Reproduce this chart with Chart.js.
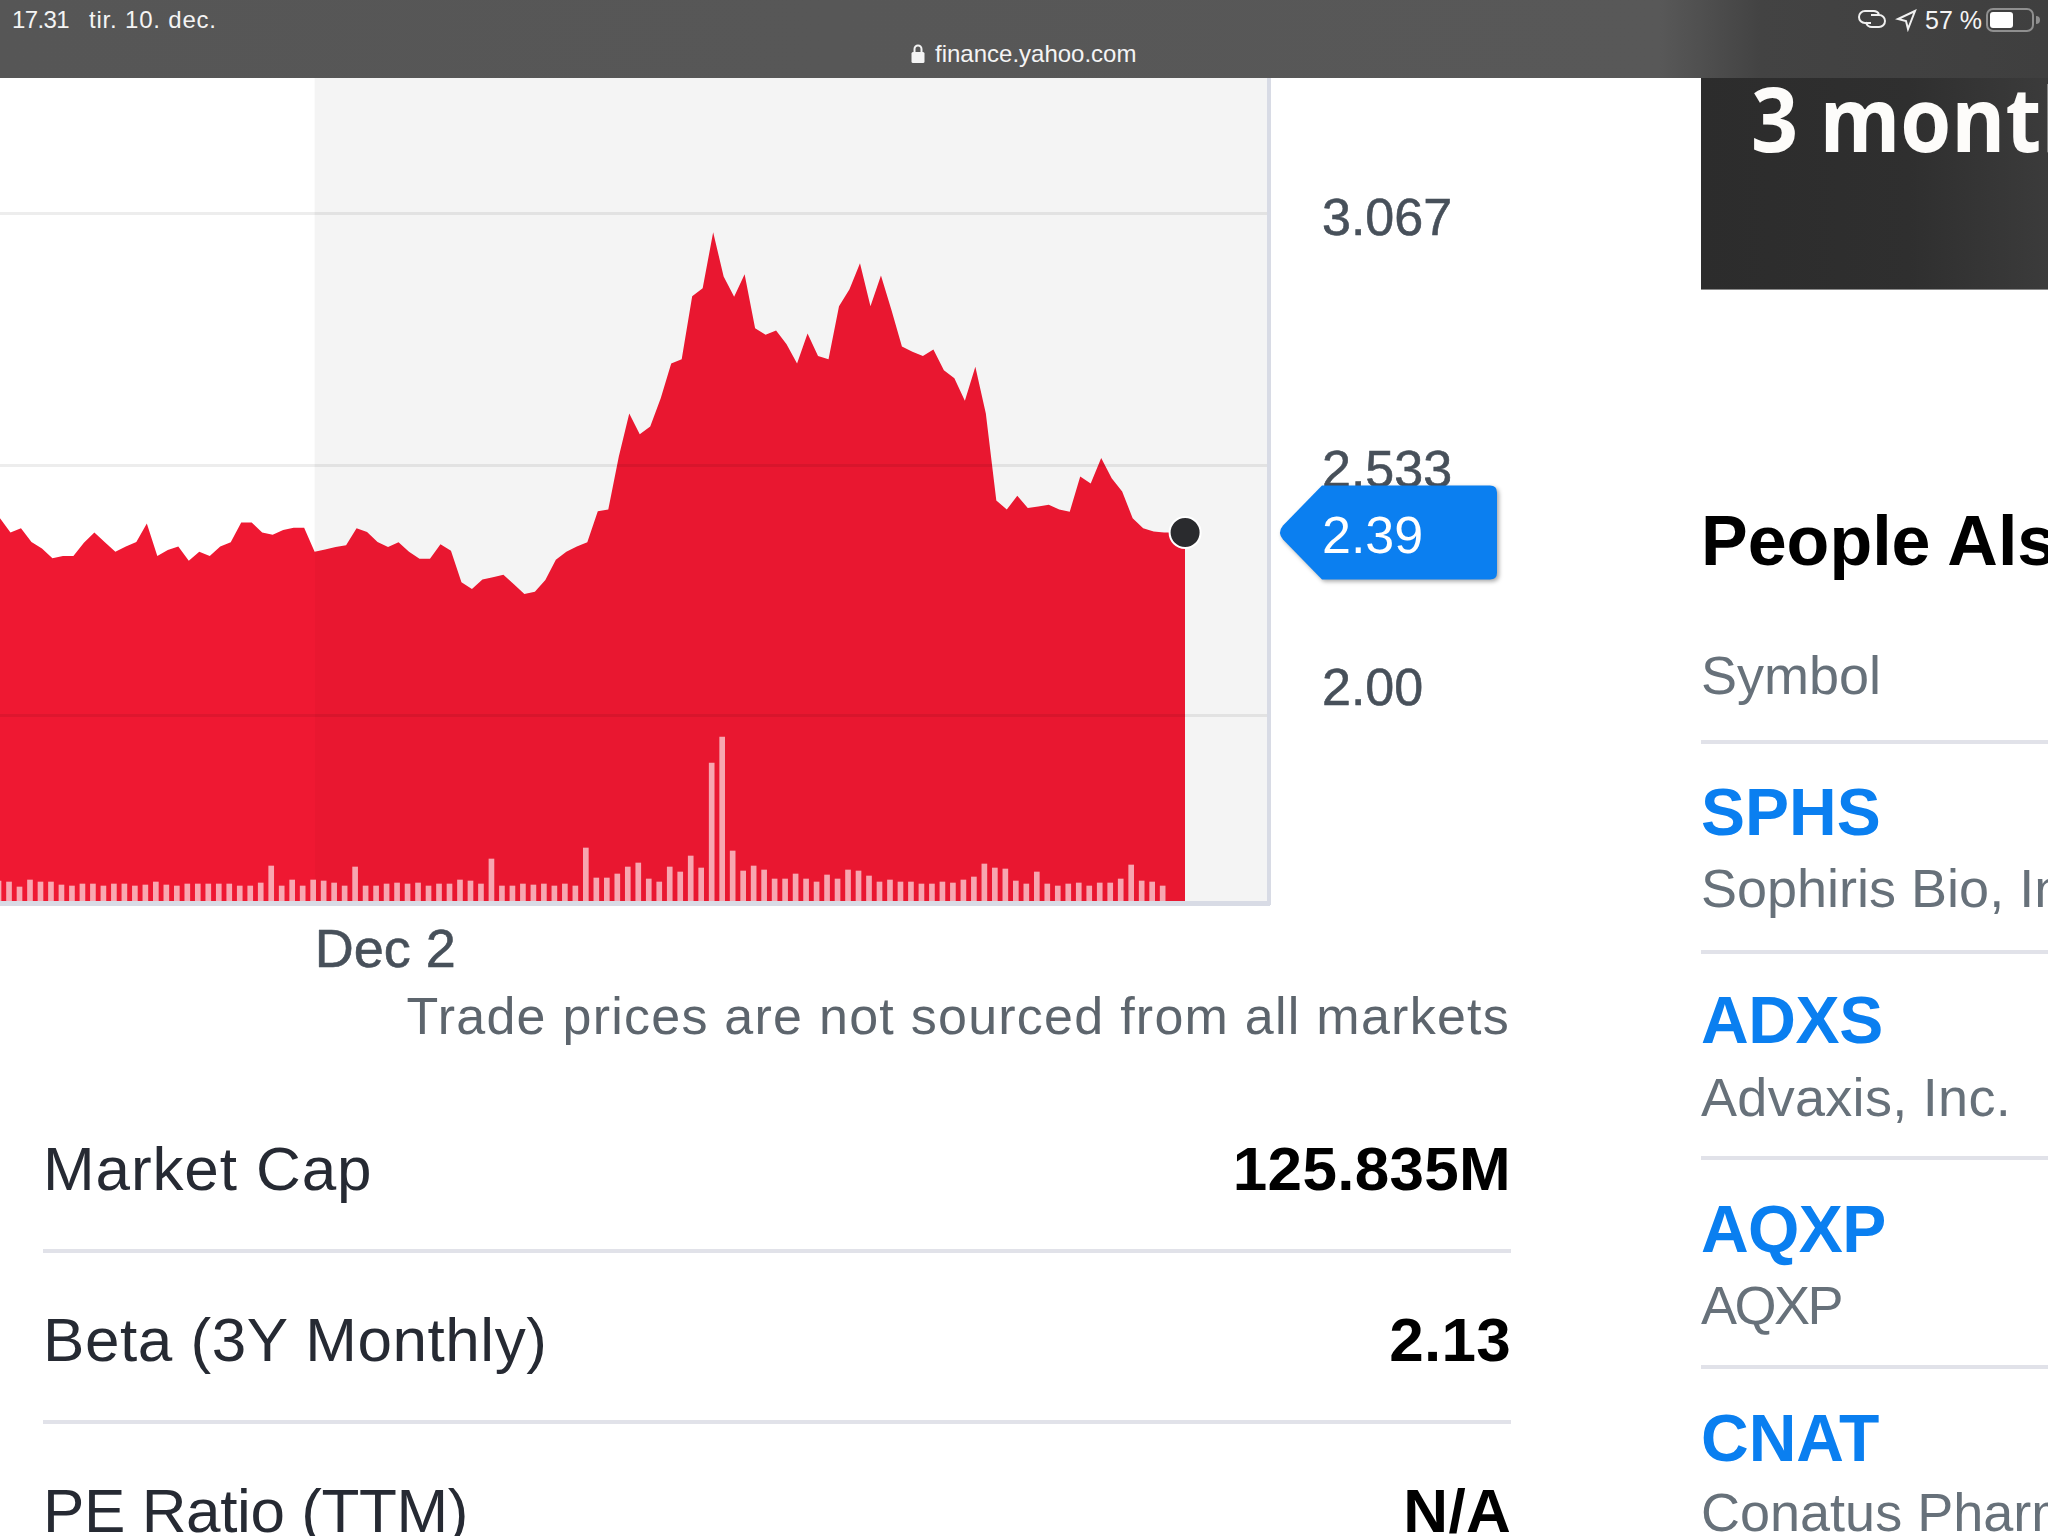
<!DOCTYPE html>
<html>
<head>
<meta charset="utf-8">
<title>finance.yahoo.com</title>
<script src="https://cdn.jsdelivr.net/npm/chart.js@4/dist/chart.umd.js"></script>
<style>
  html, body { margin: 0; padding: 0; background: #fff; }
  #page { position: relative; width: 2048px; height: 1536px; overflow: hidden; font-family: "Liberation Sans", Arial, sans-serif; }
  #page > * { position: absolute; }
  #my_chart { left: 0; top: 78px; }
  .txt { white-space: nowrap; line-height: 1; }

  #topbar { left: 0; top: 0; width: 2048px; height: 78px;
    background: linear-gradient(90deg, #565656 0, #585858 1660px, #434343 1760px, #3f3f3f 100%); }
  .bar-txt { color: #f4f4f4; font-size: 24px; }

  #promo { left: 1701px; top: 78px; width: 347px; height: 212px; overflow: hidden;
    background: linear-gradient(90deg, #2c2c2c 0, #2f2f2f 60%, #3b3b3b 100%);
    border-bottom: 1px solid #8a8a8a; box-sizing: border-box; }
  #promo span { position: absolute; left: 50px; top: -15px; color: #fdfcfa; white-space: nowrap;
    font: 700 90px "Open Sans", sans-serif; line-height: 1.2; transform: scaleX(0.915); transform-origin: left; }

  .note { right: 538px; color: #5d656d; font-size: 52px; letter-spacing: 1.25px; }
  .stat-name { left: 43px; color: #262a33; font-size: 62px; }
  .stat-val { right: 537px; color: #000; font-size: 62px; font-weight: 700; letter-spacing: 0.3px; }
  .rule { height: 4px; background: #e1e2e9; }
  .head { left: 1701px; color: #000; font-size: 70px; font-weight: 700; }
  .sym { left: 1701px; color: #0a7ff0; font-size: 66px; font-weight: 700; }
  .co { left: 1701px; color: #67717a; font-size: 54px; }
</style>
</head>
<body>
<div id="page">
  <canvas id="my_chart" width="1640" height="920"></canvas>

  <div id="topbar"></div>
  <div class="txt bar-txt" style="left:12px;top:8px;letter-spacing:-0.6px">17.31</div>
  <div class="txt bar-txt" style="left:89px;top:8px;letter-spacing:0.8px">tir. 10. dec.</div>
  <svg style="left:911px;top:43px" width="14" height="21" viewBox="0 0 14 21">
    <path d="M3.5 9V6a3.5 3.5 0 0 1 7 0v3" fill="none" stroke="#f4f4f4" stroke-width="2"/>
    <rect x="0.5" y="9" width="13" height="11" rx="1.5" fill="#f4f4f4"/>
  </svg>
  <div class="txt bar-txt" style="left:935px;top:42px">finance.yahoo.com</div>
  <svg style="left:1856px;top:6px" width="64" height="26" viewBox="0 0 64 26" fill="none" stroke="#f0f0f0" stroke-width="2">
    <path d="M15 17H9a6 6 0 0 1 0-12h9a6 6 0 0 1 5 3"/>
    <path d="M15 9h8a6 6 0 0 1 0 12h-7a6 6 0 0 1-6-5"/>
    <path d="M59 5L42 13l8 2 2 8z"/>
  </svg>
  <div class="txt bar-txt" style="left:1925px;top:8px;font-size:25px">57 %</div>
  <svg style="left:1984px;top:6px" width="56" height="28" viewBox="0 0 56 28">
    <rect x="3" y="3" width="46" height="22" rx="6" fill="none" stroke="#8f8f8f" stroke-width="2"/>
    <rect x="6" y="6" width="23" height="16" rx="3" fill="#fff"/>
    <path d="M52 10a4 4 0 0 1 0 8z" fill="#8f8f8f"/>
  </svg>

  <div id="promo"><span>3 months</span></div>

  <div class="txt note" style="top:990px">Trade prices are not sourced from all markets</div>

  <div class="txt stat-name" style="top:1138px;letter-spacing:0.9px">Market Cap</div>
  <div class="txt stat-val" style="top:1138px">125.835M</div>
  <div class="rule" style="left:43px;top:1249px;width:1468px"></div>
  <div class="txt stat-name" style="top:1309px;letter-spacing:0.55px">Beta (3Y Monthly)</div>
  <div class="txt stat-val" style="top:1309px">2.13</div>
  <div class="rule" style="left:43px;top:1420px;width:1468px"></div>
  <div class="txt stat-name" style="top:1480px;letter-spacing:-0.4px">PE Ratio (TTM)</div>
  <div class="txt stat-val" style="top:1480px">N/A</div>

  <div class="txt head" style="top:506px">People Also Watch</div>
  <div class="txt co" style="top:648px">Symbol</div>
  <div class="rule" style="left:1701px;top:740px;width:347px"></div>
  <div class="txt sym" style="top:779px">SPHS</div>
  <div class="txt co" style="top:861px">Sophiris Bio, Inc.</div>
  <div class="rule" style="left:1701px;top:950px;width:347px"></div>
  <div class="txt sym" style="top:987px;letter-spacing:-0.4px">ADXS</div>
  <div class="txt co" style="top:1070px;letter-spacing:0.3px">Advaxis, Inc.</div>
  <div class="rule" style="left:1701px;top:1156px;width:347px"></div>
  <div class="txt sym" style="top:1196px;letter-spacing:-0.6px">AQXP</div>
  <div class="txt co" style="top:1278px;letter-spacing:-2.5px">AQXP</div>
  <div class="rule" style="left:1701px;top:1365px;width:347px"></div>
  <div class="txt sym" style="top:1405px">CNAT</div>
  <div class="txt co" style="top:1485px">Conatus Pharmaceuticals</div>
</div>

<script>
// intraday price, one sample per 5 minutes
var prices = [
  2.420, 2.390, 2.399, 2.370, 2.356, 2.335, 2.340, 2.340, 2.368, 2.390,
  2.369, 2.349, 2.360, 2.370, 2.409, 2.340, 2.353, 2.360, 2.330, 2.349,
  2.340, 2.360, 2.369, 2.411, 2.411, 2.390, 2.385, 2.395, 2.400, 2.400,
  2.349, 2.354, 2.359, 2.363, 2.399, 2.391, 2.370, 2.359, 2.369, 2.349,
  2.334, 2.334, 2.365, 2.351, 2.284, 2.270, 2.290, 2.295, 2.300, 2.280,
  2.259, 2.264, 2.289, 2.332, 2.349, 2.360, 2.369, 2.435, 2.439, 2.551,
  2.643, 2.599, 2.615, 2.675, 2.749, 2.758, 2.892, 2.909, 3.028, 2.934,
  2.891, 2.939, 2.824, 2.810, 2.819, 2.790, 2.749, 2.813, 2.765, 2.758,
  2.871, 2.907, 2.962, 2.871, 2.936, 2.863, 2.785, 2.774, 2.765, 2.779,
  2.735, 2.718, 2.670, 2.742, 2.643, 2.458, 2.439, 2.468, 2.442, 2.445,
  2.449, 2.439, 2.434, 2.509, 2.494, 2.548, 2.505, 2.477, 2.420, 2.399,
  2.392, 2.390, 2.390, 2.390
];

var volumes = [
  22, 21, 16, 23, 21, 21, 18, 17, 19, 19,
  17, 19, 19, 17, 18, 21, 18, 17, 19, 19,
  19, 19, 19, 17, 17, 20, 37, 17, 23, 17,
  23, 22, 20, 17, 36, 17, 17, 19, 20, 19,
  20, 17, 19, 19, 23, 22, 19, 44, 17, 17,
  19, 18, 19, 17, 19, 17, 55, 25, 25, 29,
  36, 40, 24, 21, 36, 31, 47, 35, 140, 166,
  52, 32, 37, 33, 24, 24, 29, 24, 21, 28,
  24, 33, 32, 27, 21, 23, 21, 21, 19, 19,
  21, 20, 23, 26, 39, 35, 34, 22, 19, 31,
  19, 17, 19, 20, 17, 20, 20, 24, 38, 22,
  21, 17
];

var price_ticks = [3.067, 2.533, 2.00];
var date_ticks = [30];
var date_labels = { 30: 'Dec 2' };
var session_start = 30;      // pre-Dec 2 samples sit on the white part
var last_price = 2.39;

const FONT = '"Liberation Sans", Arial, sans-serif';
const X_MAX = 121;
const Y_MIN = 1.6026, Y_MAX = 3.3558;
const VOL_MAX = 825;

function noPadding(s) {
  s.paddingLeft = s.paddingRight = s.paddingTop = s.paddingBottom = 0;
}

function areaFill(context) {
  const chart = context.chart;
  const area = chart.chartArea;
  if (!area) return '#E91730';
  const stop = (chart.scales.x.getPixelForValue(session_start) - area.left) / (area.right - area.left);
  const grad = chart.ctx.createLinearGradient(area.left, 0, area.right, 0);
  grad.addColorStop(0, '#EF1832');
  grad.addColorStop(stop, '#EF1832');
  grad.addColorStop(stop, '#E91730');
  grad.addColorStop(1, '#E91730');
  return grad;
}

// grey band behind the current session
const sessionBand = {
  id: 'sessionBand',
  beforeDatasetsDraw(chart) {
    const { ctx, chartArea, scales } = chart;
    const left = scales.x.getPixelForValue(session_start);
    ctx.save();
    ctx.fillStyle = '#f4f4f4';
    ctx.fillRect(left, chartArea.top, chartArea.right - left, chartArea.bottom - chartArea.top);
    ctx.restore();
  }
};

// blue flag with the last price, hanging off the right axis
const priceFlag = {
  id: 'priceFlag',
  afterDraw(chart) {
    const { ctx, chartArea, scales } = chart;
    const y = scales.y.getPixelForValue(last_price);
    const tip = chartArea.right + 12;
    const left = chartArea.right + 53;
    const right = chartArea.right + 228;
    const half = 47;
    const r = 7;
    ctx.save();
    ctx.shadowColor = 'rgba(0,0,0,0.35)';
    ctx.shadowBlur = 4;
    ctx.shadowOffsetX = 2;
    ctx.shadowOffsetY = 2;
    ctx.fillStyle = '#0b7ff0';
    ctx.beginPath();
    ctx.moveTo(left, y - half);
    ctx.lineTo(right - r, y - half);
    ctx.quadraticCurveTo(right, y - half, right, y - half + r);
    ctx.lineTo(right, y + half - r);
    ctx.quadraticCurveTo(right, y + half, right - r, y + half);
    ctx.lineTo(left, y + half);
    ctx.lineTo(tip + 2, y + 7);
    ctx.quadraticCurveTo(tip - 4, y, tip + 2, y - 7);
    ctx.closePath();
    ctx.fill();
    ctx.shadowColor = 'transparent';
    ctx.fillStyle = '#fff';
    ctx.font = '52px ' + FONT;
    ctx.textBaseline = 'middle';
    ctx.fillText(last_price.toFixed(2), left, y + 6);
    ctx.restore();
  }
};

const scales = {
  x: {
    type: 'linear',
    min: 0,
    max: X_MAX,
    offset: false,
    afterBuildTicks: s => { s.ticks = date_ticks.map(v => ({ value: v })) },
    afterFit: s => { s.height = 920 - 825; noPadding(s) },
    grid: { drawOnChartArea: false, drawTicks: false },
    border: { color: '#d8dbe5', width: 5, z: 2 },
    ticks: {
      autoSkip: false,
      maxRotation: 0,
      align: 'start',
      padding: 17,
      color: '#47505a',
      textStrokeColor: '#47505a',
      textStrokeWidth: 0.6,
      font: { family: FONT, size: 54 },
      callback: v => date_labels[v] || ''
    }
  },
  y: {
    position: 'right',
    min: Y_MIN,
    max: Y_MAX,
    afterBuildTicks: s => { s.ticks = price_ticks.map(v => ({ value: v })) },
    afterFit: s => { s.width = 1640 - 1269; noPadding(s) },
    grid: { color: 'rgba(0,0,0,0.07)', lineWidth: 3, drawTicks: false, z: 1 },
    // border has to go after the grid layer, it takes its position from there
    border: { color: '#d8dbe5', width: 4, z: 2 },
    ticks: {
      autoSkip: false,
      padding: 53,
      labelOffset: 7,
      color: '#47505a',
      textStrokeColor: '#47505a',
      textStrokeWidth: 0.6,
      font: { family: FONT, size: 52, lineHeight: 1.25 },
      // the 2.00 label rides one half line above its gridline
      callback: v => v === 2 ? ['2.00', ''] : v.toFixed(3)
    }
  },
  vol: { display: false, min: 0, max: VOL_MAX }
};

var ctx = document.getElementById('my_chart').getContext('2d');
var my_chart = new Chart(ctx, {
  type: 'line',
  data: {
    datasets: [
      {
        type: 'bar',
        label: 'Volume',
        order: 0,
        yAxisID: 'vol',
        data: volumes.map((v, i) => ({ x: i - 0.14, y: v })),
        backgroundColor: 'rgba(255,255,255,0.62)',
        barThickness: 5
      },
      {
        type: 'line',
        label: 'Price',
        order: 1,
        yAxisID: 'y',
        data: prices.map((p, i) => ({ x: i, y: p })),
        fill: 'start',
        tension: 0,
        borderWidth: 0,
        backgroundColor: areaFill,
        pointRadius: c => c.dataIndex === prices.length - 1 ? 15.5 : 0,
        pointBackgroundColor: '#2a2b2e',
        pointBorderColor: '#fff',
        pointBorderWidth: 2
      }
    ]
  },
  options: {
    responsive: false,
    animation: false,
    layout: { padding: 0, autoPadding: false },
    scales: scales,
    plugins: { legend: { display: false }, tooltip: { enabled: false } }
  },
  plugins: [sessionBand, priceFlag]
});
</script>
</body>
</html>
